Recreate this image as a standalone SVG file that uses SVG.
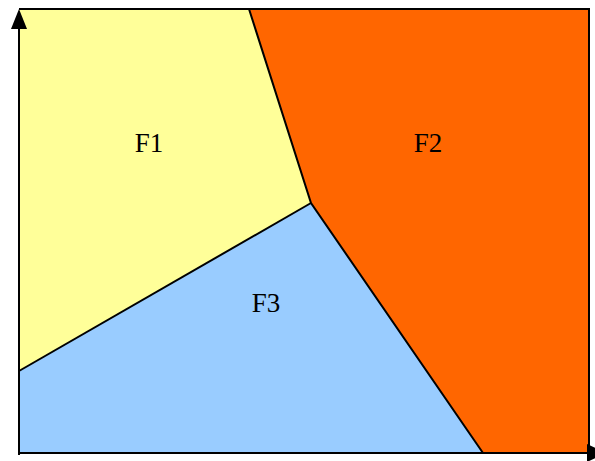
<svg xmlns="http://www.w3.org/2000/svg" width="595" height="461" viewBox="0 0 595 461">
<style>
.edge{stroke:#000;stroke-width:2;fill:none;stroke-linejoin:miter}
.lbl{font-family:"Liberation Serif","Times New Roman",serif;font-size:27px;fill:#000;text-anchor:middle}
</style>
<rect width="595" height="461" fill="#fff"/>
<g id="F1"><polygon points="19,9 249,9 311,203 19,371" fill="#FFFF99"/><text class="lbl" x="149" y="152">F1</text></g>
<g id="F2"><polygon points="249,9 589,9 589,453 483,453 311,203" fill="#FF6600"/><text class="lbl" x="428" y="152">F2</text></g>
<g id="F3"><polygon points="19,371 311,203 483,453 19,453" fill="#99CCFF"/><text class="lbl" x="266" y="312">F3</text></g>
<g id="connectors">
<polyline class="edge" points="19,9 589,9 589,453" stroke="#333"/>
<polyline class="edge" points="249,9 311,203 483,453"/>
<line class="edge" x1="19" y1="371" x2="311" y2="203"/>
<line class="edge" x1="19" y1="455" x2="19" y2="26"/>
<line class="edge" x1="18" y1="453" x2="590" y2="453"/>
<polygon points="19,9 11,29 27,29" fill="#000"/>
<polygon points="606,453 587,444 587,462" fill="#000"/>
</g>
</svg>
